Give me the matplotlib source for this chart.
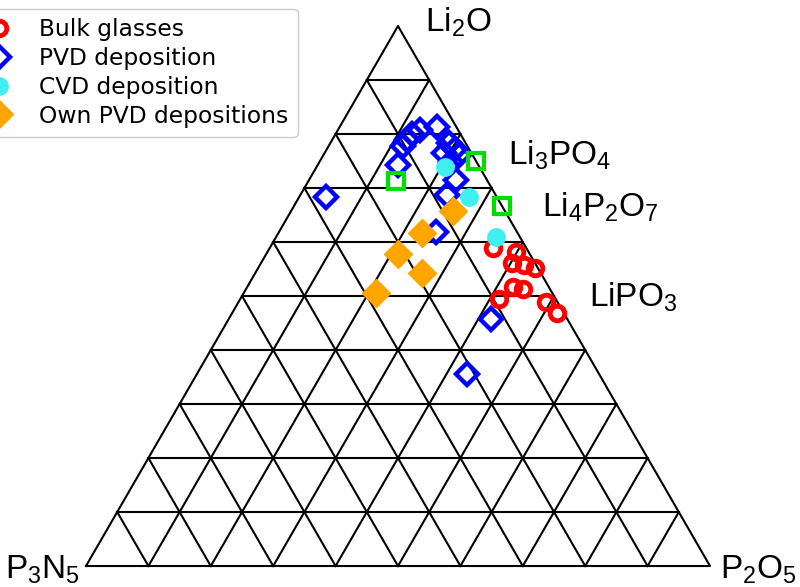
import numpy as np
import matplotlib
matplotlib.use("Agg")
import matplotlib.pyplot as plt

plt.rcParams["mathtext.fontset"] = "custom"
plt.rcParams["mathtext.rm"] = "Liberation Sans"
plt.rcParams["mathtext.default"] = "regular"

# Compositions as (Li2O, P2O5) mole fractions; P3N5 is the remainder
bulk_li2o = [0.589, 0.581, 0.561, 0.557, 0.552, 0.517, 0.513, 0.494, 0.489, 0.469]
bulk_p2o5 = [0.358, 0.398, 0.402, 0.423, 0.444, 0.426, 0.444, 0.415, 0.493, 0.521]

pvd_li2o = [0.813, 0.807, 0.800, 0.789, 0.778, 0.743, 0.783, 0.772, 0.761, 0.765,
            0.748, 0.715, 0.687, 0.619, 0.683, 0.457, 0.356]
pvd_p2o5 = [0.156, 0.131, 0.122, 0.120, 0.119, 0.129, 0.190, 0.205, 0.218, 0.192,
            0.211, 0.236, 0.235, 0.252, 0.043, 0.420, 0.433]

cvd_li2o = [0.739, 0.683, 0.609]
cvd_p2o5 = [0.206, 0.272, 0.352]

own_li2o = [0.657, 0.617, 0.578, 0.543, 0.506]
own_p2o5 = [0.259, 0.230, 0.211, 0.267, 0.212]

ref_li2o = [0.750, 0.667, 0.713]
ref_p2o5 = [0.250, 0.333, 0.140]

H = np.sqrt(3) / 2


def to_xy(li2o, p2o5):
    a = np.asarray(li2o)
    c = np.asarray(p2o5)
    return c + a / 2, a * H


fig = plt.figure(figsize=(8.0, 5.87), dpi=100)
ax = fig.add_axes([0, 0, 1, 1])
ax.set_xlim(-86 / 624, (800 - 86) / 624)
ax.set_ylim(-(587 - 566) / 624, H + 26 / 624)
ax.axis("off")

# triangular grid, 10 divisions per side
n = 10
lw = 1.5
for i in range(1, n):
    t = i / n
    # constant Li2O
    x0, y0 = to_xy(t, 0)
    x1, y1 = to_xy(t, 1 - t)
    ax.plot([x0, x1], [y0, y1], color="black", lw=lw, zorder=1)
    # constant P2O5
    x0, y0 = to_xy(0, t)
    x1, y1 = to_xy(1 - t, t)
    ax.plot([x0, x1], [y0, y1], color="black", lw=lw, zorder=1)
    # constant P3N5
    x0, y0 = to_xy(0, 1 - t)
    x1, y1 = to_xy(1 - t, 0)
    ax.plot([x0, x1], [y0, y1], color="black", lw=lw, zorder=1)
ax.plot([0, 1, 0.5, 0], [0, 0, H, 0], color="black", lw=lw, zorder=1)

x, y = to_xy(bulk_li2o, bulk_p2o5)
ax.plot(x, y, "o", ls="none", mfc="none", mec="red", ms=10.5, mew=3.5,
        label="Bulk glasses", zorder=3)
x, y = to_xy(pvd_li2o, pvd_p2o5)
ax.plot(x, y, "D", ls="none", mfc="none", mec="blue", ms=11, mew=3.2,
        label="PVD deposition", zorder=3)
x, y = to_xy(cvd_li2o, cvd_p2o5)
ax.plot(x, y, "o", ls="none", color="#40f0f0", ms=12.5,
        label="CVD deposition", zorder=4)
x, y = to_xy(own_li2o, own_p2o5)
ax.plot(x, y, "D", ls="none", color="orange", ms=14.5,
        label="Own PVD depositions", zorder=4)
x, y = to_xy(ref_li2o, ref_p2o5)
ax.plot(x, y, "s", ls="none", mfc="none", mec="#00dd00", ms=11, mew=3, zorder=3)

tfont = dict(family="Liberation Sans", fontsize=24, color="black")
ax.text((425 - 86) / 624, (566 - 22) / 624, "Li$_2$O", ha="left", va="center", **tfont)
ax.text((5 - 86) / 624, (566 - 570) / 624, "P$_3$N$_5$", ha="left", va="center", **tfont)
ax.text((797 - 86) / 624, (566 - 570) / 624, "P$_2$O$_5$", ha="right", va="center", **tfont)
ax.text((508 - 86) / 624, (566 - 155) / 624, "Li$_3$PO$_4$", ha="left", va="center", **tfont)
ax.text((542 - 86) / 624, (566 - 207) / 624, "Li$_4$P$_2$O$_7$", ha="left", va="center", **tfont)
ax.text((589 - 86) / 624, (566 - 297) / 624, "LiPO$_3$", ha="left", va="center", **tfont)

leg = ax.legend(loc="lower right", bbox_to_anchor=(298 / 800, 1 - 137 / 587),
                bbox_transform=fig.transFigure, prop=dict(family="DejaVu Sans", size=16.8),
                frameon=True, fancybox=True, edgecolor="0.8", framealpha=1,
                handletextpad=0.75, borderaxespad=0, labelspacing=0.25,
                borderpad=0.4)

fig.savefig("out.png", dpi=100)
